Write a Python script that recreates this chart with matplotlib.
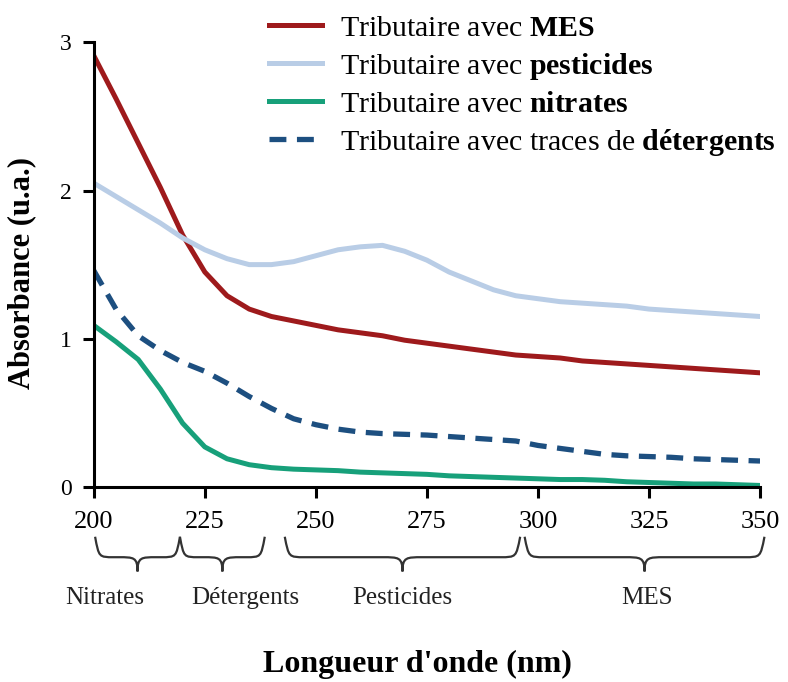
import matplotlib
matplotlib.use("Agg")
import matplotlib.pyplot as plt
from matplotlib.path import Path
from matplotlib.patches import PathPatch
import matplotlib.transforms as mtransforms

plt.rcParams['font.family'] = ['Liberation Serif', 'DejaVu Serif']
plt.rcParams['mathtext.fontset'] = 'custom'
plt.rcParams['mathtext.rm'] = 'Liberation Serif'
plt.rcParams['mathtext.bf'] = 'Liberation Serif:bold'

# wavelengths (nm)
wl = [200, 205, 210, 215, 220, 225, 230, 235, 240, 245, 250, 255, 260, 265, 270,
      275, 280, 285, 290, 295, 300, 305, 310, 315, 320, 325, 330, 335, 340, 345, 350]

mes = [2.91, 2.62, 2.32, 2.02, 1.70, 1.45, 1.29, 1.20, 1.15, 1.12, 1.09, 1.06, 1.04, 1.02, 0.99,
       0.97, 0.95, 0.93, 0.91, 0.89, 0.88, 0.87, 0.85, 0.84, 0.83, 0.82, 0.81, 0.80, 0.79, 0.78, 0.77]
pesticides = [2.05, 1.96, 1.87, 1.78, 1.68, 1.60, 1.54, 1.50, 1.50, 1.52, 1.56, 1.60, 1.62, 1.63, 1.59,
              1.53, 1.45, 1.39, 1.33, 1.29, 1.27, 1.25, 1.24, 1.23, 1.22, 1.20, 1.19, 1.18, 1.17, 1.16, 1.15]
nitrates = [1.09, 0.98, 0.86, 0.66, 0.43, 0.27, 0.19, 0.15, 0.13, 0.12, 0.115, 0.11, 0.10, 0.095, 0.09,
            0.085, 0.075, 0.07, 0.065, 0.06, 0.055, 0.05, 0.05, 0.045, 0.035, 0.03, 0.025, 0.02, 0.02, 0.015, 0.01]
detergents = [1.46, 1.20, 1.02, 0.92, 0.84, 0.78, 0.70, 0.61, 0.53, 0.46, 0.42, 0.39, 0.37, 0.36, 0.355,
              0.35, 0.34, 0.33, 0.32, 0.31, 0.28, 0.26, 0.24, 0.22, 0.21, 0.205, 0.20, 0.19, 0.185, 0.18, 0.175]

# absorption regions under the x axis
regions = ['Nitrates', 'Détergents', 'Pesticides', 'MES']
reg_start = [200.3, 219.4, 243, 297]
reg_end = [219.4, 238.5, 296, 351]
reg_label_x = [202.5, 234, 269.5, 324.5]

fig = plt.figure(figsize=(7.88, 6.82), dpi=100)
ax = fig.add_axes([0.119, 0.286, 0.8455, 0.652])

ax.plot(wl, mes, color='#9e1a1c', lw=3.6, label='Tributaire avec $\\mathbf{MES}$')
ax.plot(wl, pesticides, color='#b9cde6', lw=3.6, label='Tributaire avec $\\mathbf{pesticides}$')
ax.plot(wl, nitrates, color='#17a07a', lw=3.6, label='Tributaire avec $\\mathbf{nitrates}$')
ax.plot(wl, detergents, color='#1d4f80', lw=3.8, dashes=(3.2, 2.0),
        label='Tributaire avec traces de $\\mathbf{détergents}$')

ax.set_xlim(200, 350)
ax.set_ylim(0, 3)
ax.set_xticks([200, 225, 250, 275, 300, 325, 350])
ax.set_yticks([0, 1, 2, 3])
for s in ['top', 'right']:
    ax.spines[s].set_visible(False)
for s in ['left', 'bottom']:
    ax.spines[s].set_linewidth(2.2)
ax.tick_params(direction='out', length=8, width=2.2)
ax.tick_params(axis='x', labelsize=19, pad=9)
ax.tick_params(axis='y', labelsize=17, pad=8)

fig.text(0.027, 0.6, 'Absorbance (u.a.)', fontsize=22, fontweight='bold',
         rotation=90, ha='center', va='center')
fig.text(0.53, 0.025, "Longueur d'onde (nm)", fontsize=23, fontweight='bold',
         ha='center', va='center')

leg = ax.legend(loc='upper left', bbox_to_anchor=(0.341, 0.978), bbox_transform=fig.transFigure,
                frameon=False, fontsize=21.5, handlelength=1.8, handletextpad=0.6,
                labelspacing=0.3, borderaxespad=0, borderpad=0)

# curly braces
trans = mtransforms.blended_transform_factory(ax.transData, ax.transAxes)
yt, ym, yb = -0.112, -0.158, -0.19
for name, x0, x1, lx in zip(regions, reg_start, reg_end, reg_label_x):
    xm = (x0 + x1) / 2
    r = min(4.5, (x1 - x0) / 4.5)
    verts = [(x0, yt), (x0 + 0.2 * r, ym), (x0 + 0.2 * r, ym), (x0 + r, ym),
             (xm - r, ym),
             (xm - 0.2 * r, ym), (xm, ym), (xm, yb),
             (xm, ym), (xm + 0.2 * r, ym), (xm + r, ym),
             (x1 - r, ym),
             (x1 - 0.2 * r, ym), (x1 - 0.2 * r, ym), (x1, yt)]
    codes = [Path.MOVETO, Path.CURVE4, Path.CURVE4, Path.CURVE4,
             Path.LINETO,
             Path.CURVE4, Path.CURVE4, Path.CURVE4,
             Path.CURVE4, Path.CURVE4, Path.CURVE4,
             Path.LINETO,
             Path.CURVE4, Path.CURVE4, Path.CURVE4]
    ax.add_patch(PathPatch(Path(verts, codes), transform=trans, fill=False,
                           lw=1.6, edgecolor='#333333', clip_on=False))
    ax.text(lx, -0.25, name, transform=trans, ha='center', va='center',
            fontsize=18, color='#222222')

fig.savefig('out.png', dpi=100)
